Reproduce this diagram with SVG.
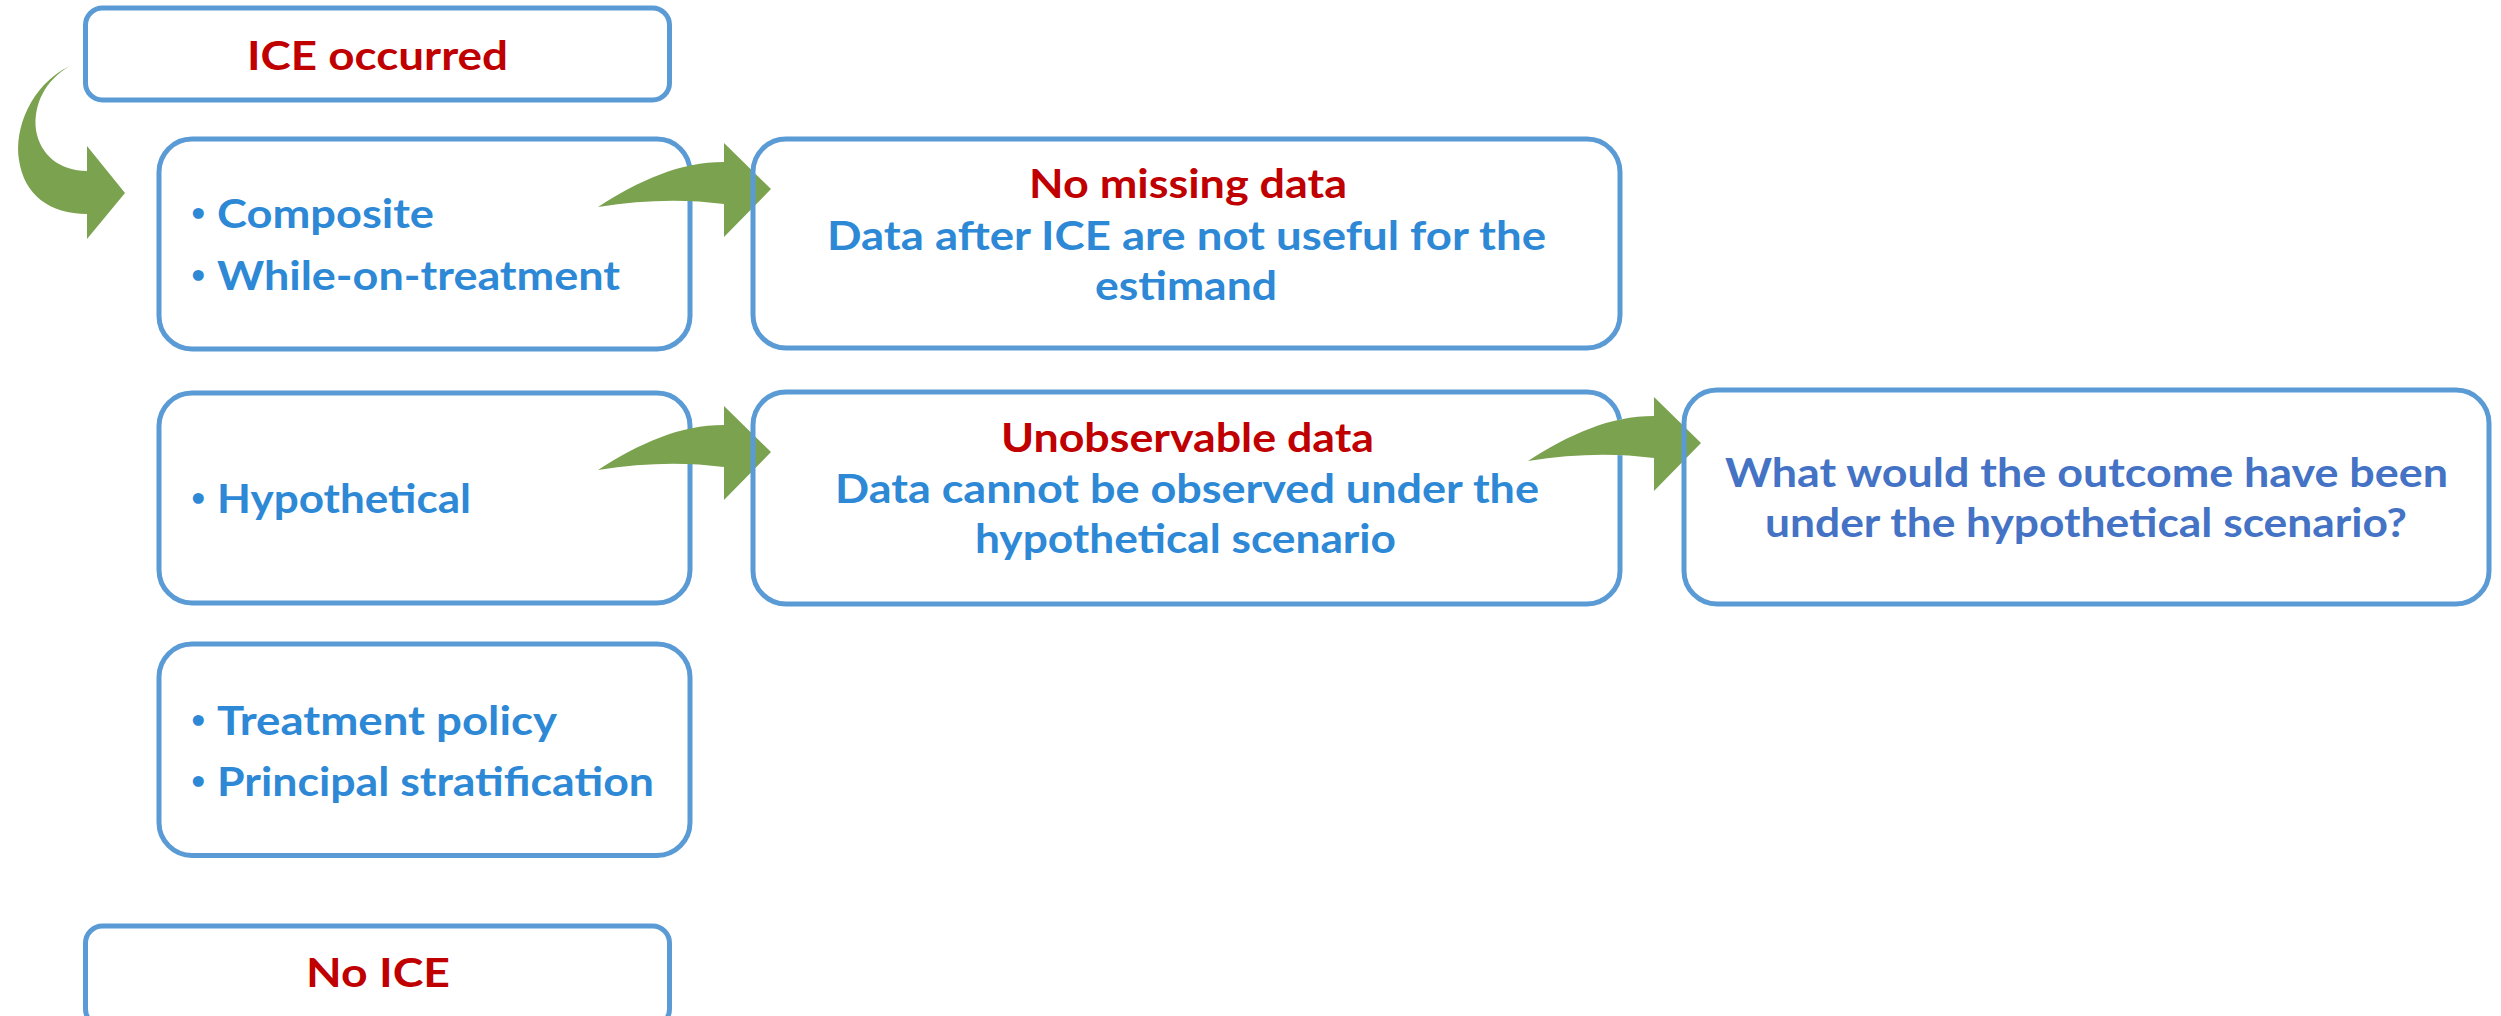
<svg xmlns="http://www.w3.org/2000/svg" width="2501" height="1016" viewBox="0 0 2501 1016">
  <style>
    .box { fill: none; stroke: #5B9BD5; stroke-width: 5; }
    .t { font-family: Lato, "Open Sans", "Liberation Sans", sans-serif; font-weight: 700; font-size: 41px; }
    .bullet { font-family: Lato, "Open Sans", "Liberation Sans", sans-serif; font-weight: 700; font-size: 25px; fill: #2D88D6; }
    .red { fill: #C00000; }
    .blue { fill: #2D88D6; }
    .navy { fill: #4472C4; }
    .mid { text-anchor: middle; }
    .arrow { fill: #7BA24F; }
  </style>
  <defs>
    <!-- curved block arrow pointing right, tail at lower left -->
    <path id="curvedArrow" d="M598,207 C640,180 680,162 724,162 L724,143 L771,189 L724,237 L724,204 Q665,196 598,207 Z"/>
    <!-- hides the right edge of the middle box where the last arrow's body passes over it -->
    <mask id="underArrow4" maskUnits="userSpaceOnUse" x="0" y="0" width="2501" height="1016">
      <rect width="2501" height="1016" fill="#FFFFFF"/>
      <use href="#curvedArrow" transform="translate(930,254)" fill="#000000"/>
    </mask>
  </defs>

  <rect width="2501" height="1016" fill="#FFFFFF"/>

  <g id="ice-occurred">
    <rect class="box" x="85.5" y="8" width="584" height="92" rx="17"/>
    <text class="t red mid" x="377.5" y="70" textLength="261" lengthAdjust="spacingAndGlyphs">ICE occurred</text>
  </g>

  <g id="composite-while-on-treatment">
    <rect class="box" x="159" y="139" width="531" height="210" rx="33"/>
    <text class="bullet" x="191" y="221">•</text>
    <text class="t blue" x="217" y="228" textLength="217" lengthAdjust="spacingAndGlyphs">Composite</text>
    <text class="bullet" x="191" y="283">•</text>
    <text class="t blue" x="217" y="290" textLength="403" lengthAdjust="spacingAndGlyphs">While-on-treatment</text>
  </g>

  <g id="hypothetical">
    <rect class="box" x="159" y="393" width="531" height="210" rx="33"/>
    <text class="bullet" x="191" y="506">•</text>
    <text class="t blue" x="217" y="513" textLength="254" lengthAdjust="spacingAndGlyphs">Hypothetical</text>
  </g>

  <g id="treatment-policy-principal-stratification">
    <rect class="box" x="159" y="644" width="531" height="211.5" rx="33"/>
    <text class="bullet" x="191" y="728">•</text>
    <text class="t blue" x="217" y="735" textLength="340" lengthAdjust="spacingAndGlyphs">Treatment policy</text>
    <text class="bullet" x="191" y="789">•</text>
    <text class="t blue" x="217" y="796" textLength="437" lengthAdjust="spacingAndGlyphs">Principal stratification</text>
  </g>

  <g id="no-ice">
    <rect class="box" x="85.5" y="926" width="584" height="100" rx="17"/>
    <text class="t red mid" x="378" y="987" textLength="144" lengthAdjust="spacingAndGlyphs">No ICE</text>
  </g>

  <!-- connectors -->
  <g id="connectors" class="arrow">
    <path id="arrow-ice-to-strategies" d="M70,66 C30,85 14,130 19,160 C24,195 50,214 87,214 L87,239 L125,193 L87,146 L87,171 C60,171 40,155 36,130 C33,105 45,80 70,66 Z"/>
    <use id="arrow-composite-to-nomissing" href="#curvedArrow"/>
    <use id="arrow-hypothetical-to-unobservable" href="#curvedArrow" transform="translate(0,263)"/>
    <use id="arrow-unobservable-to-question" href="#curvedArrow" transform="translate(930,254)"/>
  </g>

  <g id="no-missing-data">
    <rect class="box" x="753" y="139" width="867" height="209" rx="33"/>
    <text class="t red mid" x="1188" y="198" textLength="318" lengthAdjust="spacingAndGlyphs">No missing data</text>
    <text class="t blue mid" x="1186.5" y="250" textLength="719" lengthAdjust="spacingAndGlyphs">Data after ICE are not useful for the</text>
    <text class="t blue mid" x="1186" y="300" textLength="182" lengthAdjust="spacingAndGlyphs">estimand</text>
  </g>

  <g id="unobservable-data">
    <rect class="box" x="753" y="392" width="867" height="212" rx="33" mask="url(#underArrow4)"/>
    <text class="t red mid" x="1187.5" y="452" textLength="373" lengthAdjust="spacingAndGlyphs">Unobservable data</text>
    <text class="t blue mid" x="1187" y="503" textLength="704" lengthAdjust="spacingAndGlyphs">Data cannot be observed under the</text>
    <text class="t blue mid" x="1185.5" y="553" textLength="421" lengthAdjust="spacingAndGlyphs">hypothetical scenario</text>
  </g>

  <g id="hypothetical-outcome">
    <rect class="box" x="1684" y="390" width="805" height="214" rx="33"/>
    <text class="t navy mid" x="2086.5" y="487" textLength="723" lengthAdjust="spacingAndGlyphs">What would the outcome have been</text>
    <text class="t navy mid" x="2086" y="537" textLength="642" lengthAdjust="spacingAndGlyphs">under the hypothetical scenario?</text>
  </g>
</svg>
